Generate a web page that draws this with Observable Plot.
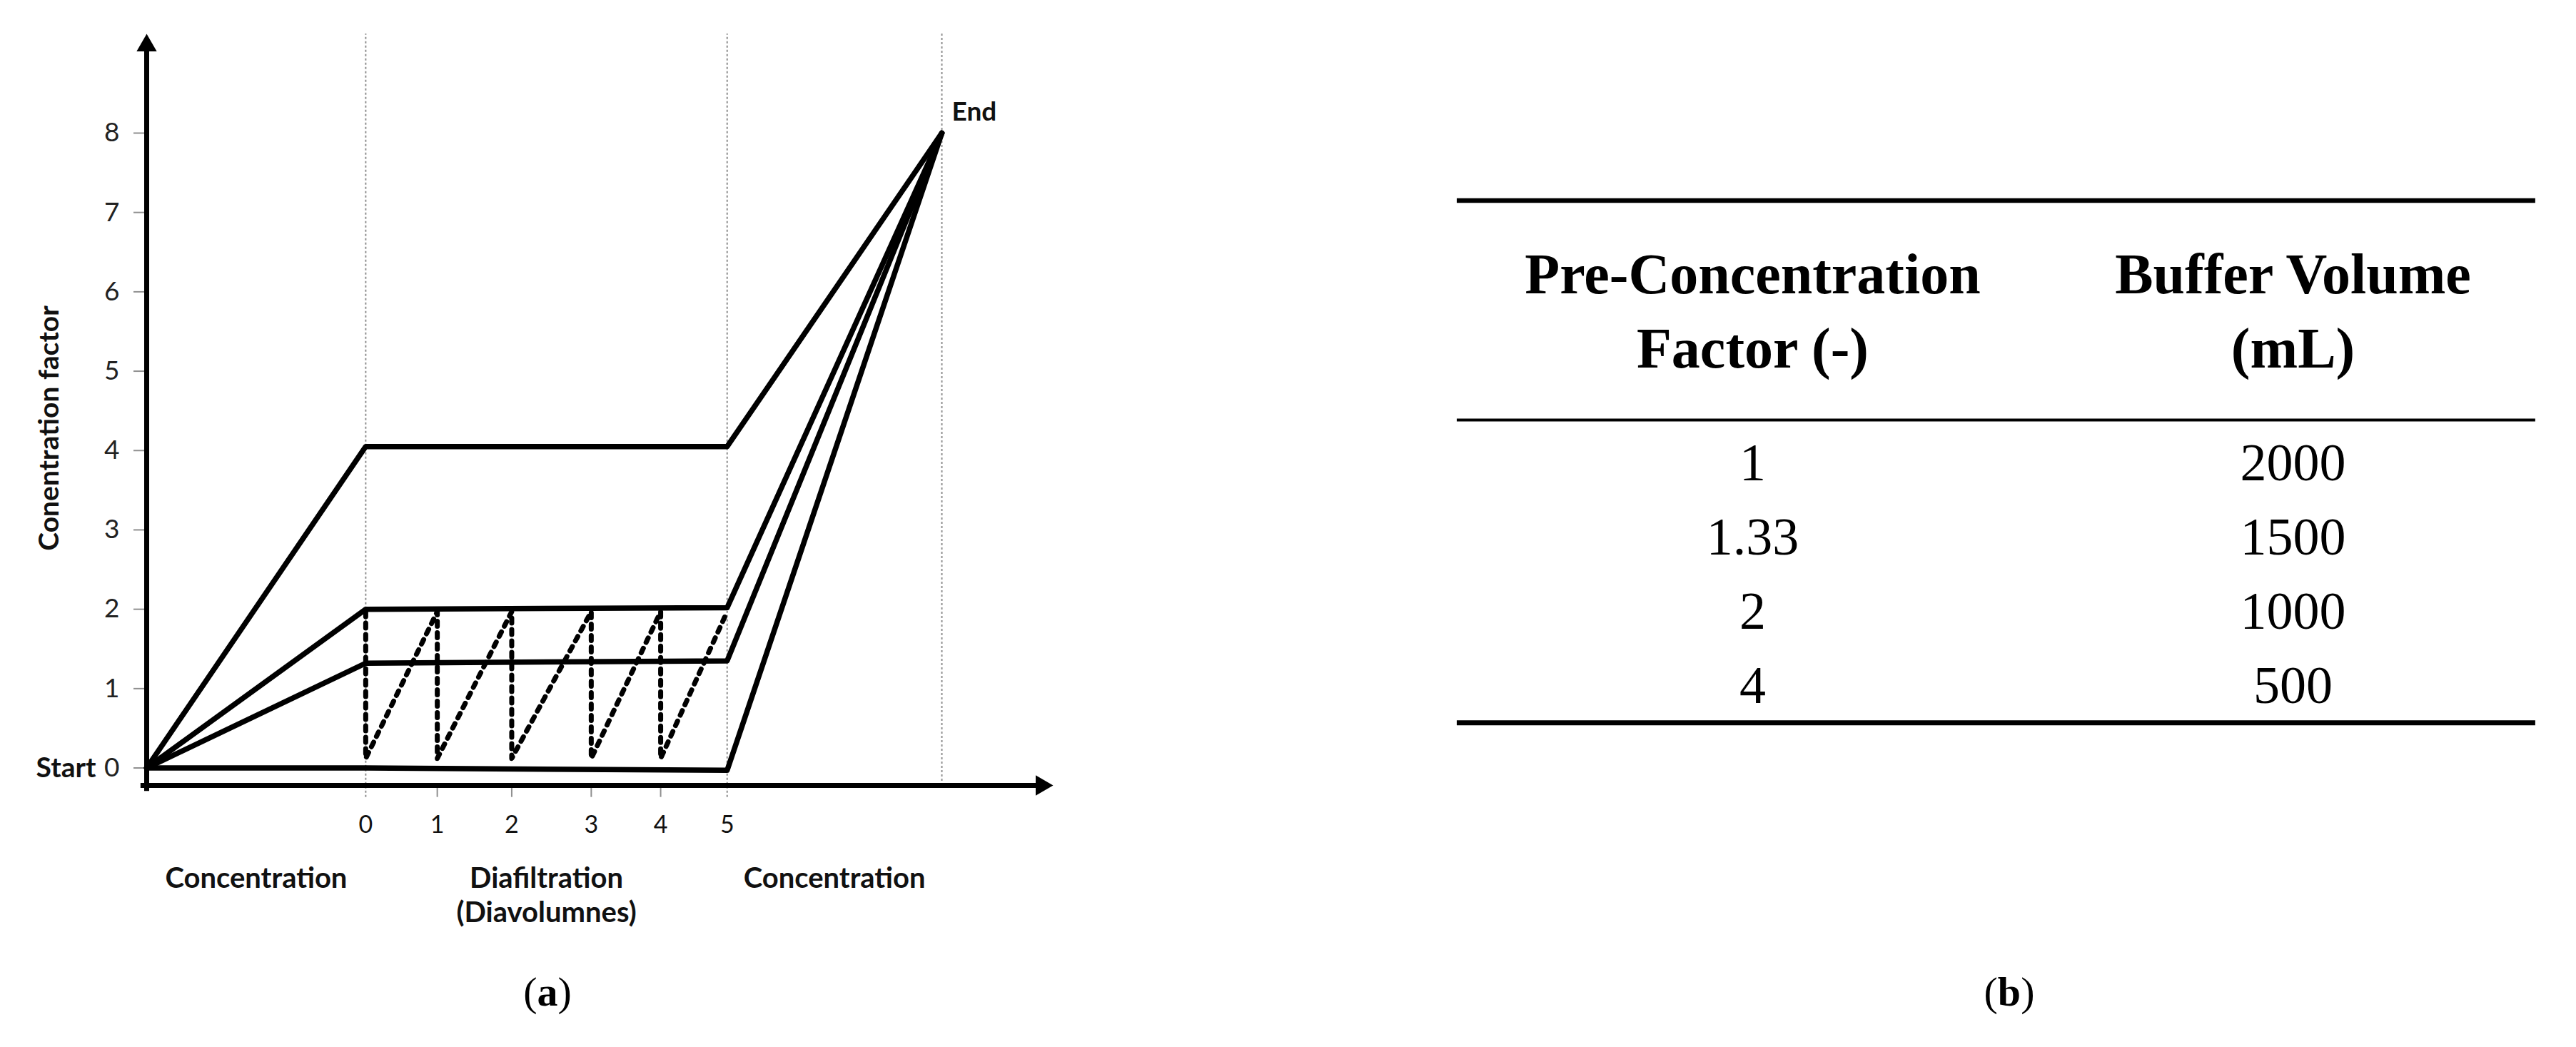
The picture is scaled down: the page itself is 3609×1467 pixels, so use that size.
<!DOCTYPE html>
<html><head><meta charset="utf-8">
<script src="https://cdn.jsdelivr.net/npm/d3@7"></script>
<script src="https://cdn.jsdelivr.net/npm/@observablehq/plot@0.6"></script>
<style>
html,body{margin:0;padding:0;background:#fff;}
#page{position:relative;width:3609px;height:1467px;overflow:hidden;background:#fff;}
#chartA{position:absolute;left:0;top:0;}
#tableB{position:absolute;left:2000px;top:250px;}
.cap{position:absolute;font-family:"Liberation Serif",serif;font-size:58px;line-height:1;transform:translateX(-50%);top:1361px;color:#000;white-space:nowrap;}
.cap b{font-weight:bold;}
</style></head><body>
<div id="page">
  <div id="chartA"></div>
  <div id="tableB"></div>
  <div class="cap" style="left:767px">(<b>a</b>)</div>
  <div class="cap" style="left:2815px">(<b>b</b>)</div>
</div>
<script>
// ---------- data: panel (a) ----------
const preConcFactors   = ["4", "2", "1.33", "1"];
const levelAfterConc   = [4.05, 2.0, 1.32, 0.0];   // level at diavolume 0
const levelBeforeFinal = [4.05, 2.02, 1.35, -0.03]; // level at diavolume 5
const startPoint = [-3.03, 0];
const endPoint   = [7.97, 8];
const axisTip    = [9.51, 9.25];
const axisBase   = -0.22;
const diavolumeLabels = ["0", "1", "2", "3", "4", "5"];
const diavolumePos    = [0, 0.99, 2.02, 3.12, 4.08, 5];
const washLow  = 0.12;
const washHigh = 1.97;
const yTicks = [0, 1, 2, 3, 4, 5, 6, 7, 8];
const phaseLabels = ["Concentration", "Diafiltration\n(Diavolumnes)", "Concentration"];
const yTitle = "Conentration factor";

// ---------- data: panel (b) ----------
const tableHeadFactor = ["Pre-Concentration", "Factor (-)"];
const tableHeadBuffer = ["Buffer Volume", "(mL)"];
const tableFactor = ["1", "1.33", "2", "4"];
const tableBuffer = ["2000", "1500", "1000", "500"];

// ---------- build panel (a) ----------
const lines = preConcFactors.flatMap((f, i) => [
  {f, x: startPoint[0], y: startPoint[1]},
  {f, x: diavolumePos[0], y: levelAfterConc[i]},
  {f, x: diavolumePos[diavolumePos.length - 1], y: levelBeforeFinal[i]},
  {f, x: endPoint[0], y: endPoint[1]}
]);
const zig = [];
for (let i = 0; i < diavolumePos.length - 1; i++) {
  zig.push({x: diavolumePos[i], y: washHigh});
  zig.push({x: diavolumePos[i], y: washLow});
}
zig.push({x: diavolumePos[diavolumePos.length - 1], y: washHigh});

const bounds = [startPoint[0], diavolumePos[0], diavolumePos[diavolumePos.length - 1], endPoint[0]];
const guideTop = 9.25, guideBottom = -0.37;
const grey = "#8f8f8f";
const headR = 10.5;               // triangle head size (px radius)
const headOff = 2 * Math.sqrt(Math.PI * headR * headR / (3 * Math.sqrt(3))); // centroid->tip

const chartA = Plot.plot({
  width: 1560, height: 1300,
  marginLeft: 205, marginRight: 85, marginTop: 47, marginBottom: 200,
  x: {domain: [startPoint[0], axisTip[0]], axis: null},
  y: {domain: [axisBase, axisTip[1]], axis: null},
  style: {fontFamily: "Lato, sans-serif", background: "white", overflow: "visible", color: "#111"},
  marks: [
    Plot.ruleX([diavolumePos[0], diavolumePos[diavolumePos.length - 1]], {y1: guideBottom, y2: guideTop, stroke: grey, strokeWidth: 2, strokeDasharray: "3,3"}),
    Plot.ruleX([endPoint[0]], {y1: axisBase, y2: guideTop, stroke: grey, strokeWidth: 2, strokeDasharray: "3,3"}),
    Plot.ruleX(diavolumePos.slice(1, -1), {y1: axisBase, y2: guideBottom, stroke: grey, strokeWidth: 2}),
    Plot.axisY(yTicks, {tickSize: 18, tickPadding: 20, tickFormat: "d", stroke: grey, strokeWidth: 2, fill: "#222", fontSize: 37, label: null}),
    Plot.text(["Start"], {x: startPoint[0], y: startPoint[1], dx: -71, textAnchor: "end", fontWeight: "bold", fontSize: 39, fill: "#111"}),
    Plot.text([yTitle], {frameAnchor: "left", dx: -136, dy: 26, rotate: -90, textAnchor: "middle", fontWeight: "bold", fontSize: 39, fill: "#111"}),
    Plot.line(zig, {x: "x", y: "y", stroke: "#000", strokeWidth: 7, strokeDasharray: "7,9"}),
    Plot.line(lines, {x: "x", y: "y", z: "f", stroke: "#000", strokeWidth: 7.5}),
    // axes with filled arrow heads
    Plot.ruleX([startPoint[0]], {y1: axisBase, y2: axisTip[1], dy: headOff / 2, stroke: "#000", strokeWidth: 7}),
    Plot.ruleY([axisBase], {x1: startPoint[0], x2: axisTip[0], dx: -headOff / 2, stroke: "#000", strokeWidth: 7}),
    Plot.dot([0], {x: startPoint[0], y: axisTip[1], dy: headOff, symbol: "triangle", r: headR, fill: "#000", stroke: "none"}),
    Plot.dot([0], {x: axisTip[0], y: axisBase, dx: -headOff, symbol: "triangle", rotate: 90, r: headR, fill: "#000", stroke: "none"}),
    Plot.text(diavolumeLabels, {x: (d, i) => diavolumePos[i], frameAnchor: "bottom", dy: 42, lineAnchor: "top", fontSize: 34, fill: "#111"}),
    Plot.text(phaseLabels, {x: (d, i) => (bounds[i] + bounds[i + 1]) / 2, frameAnchor: "bottom", dy: 109, lineAnchor: "top", lineHeight: 1.2, fontWeight: "bold", fontSize: 40, fill: "#111"}),
    Plot.text(["End"], {x: endPoint[0], y: endPoint[1], dx: 14, dy: -17, textAnchor: "start", lineAnchor: "bottom", fontWeight: "bold", fontSize: 37, fill: "#111"})
  ]
});
document.getElementById("chartA").appendChild(chartA);

// ---------- build panel (b) ----------
const headCells = [
  ...tableHeadFactor.map((t, i) => ({col: 0, row: i, t})),
  ...tableHeadBuffer.map((t, i) => ({col: 1, row: i, t}))
];
const bodyStart = 2.52;
const bodyCells = [
  ...tableFactor.map((t, i) => ({col: 0, row: bodyStart + i, t})),
  ...tableBuffer.map((t, i) => ({col: 1, row: bodyStart + i, t}))
];
const ruleRows = [
  {row: -1.245, w: 6.5},
  {row: 1.712, w: 4},
  {row: bodyStart + tableFactor.length - 1 + 0.27, w: 7}
];
const tableB = Plot.plot({
  width: 1609, height: 800, margin: 0,
  x: {domain: [0, 1], range: [455, 1212], axis: null},
  y: {domain: [0, 1], range: [160, 264], axis: null},
  style: {fontFamily: "'Liberation Serif', serif", background: "transparent", overflow: "visible", color: "#000"},
  marks: [
    Plot.ruleY(ruleRows, {y: "row", x1: -0.547, x2: 1.449, stroke: "#000", strokeWidth: "w"}),
    Plot.text(headCells, {x: "col", y: "row", text: "t", lineAnchor: "bottom", fontWeight: "bold", fontSize: 80, fill: "#000"}),
    Plot.text(bodyCells, {x: "col", y: "row", text: "t", lineAnchor: "bottom", fontSize: 74, fill: "#000"})
  ]
});
document.getElementById("tableB").appendChild(tableB);
</script>
</body></html>
